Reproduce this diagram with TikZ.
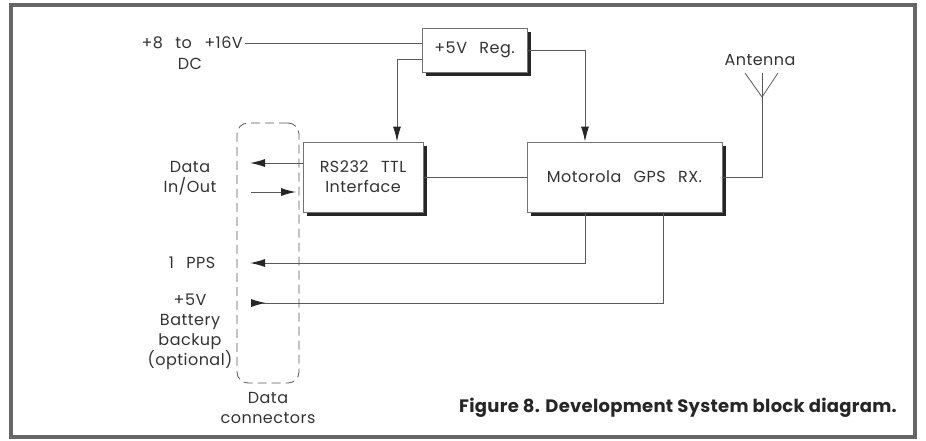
\documentclass[tikz,border=0pt]{standalone}
\usepackage{fontspec}
\setmainfont{Poppins}[WordSpace=2.6, LetterSpace=3]
\newfontfamily\capfont{Poppins}[LetterSpace=1.5]
\usetikzlibrary{arrows.meta,shadows}
\begin{document}
\begin{tikzpicture}[x=1pt,y=-1pt,
  lbl/.style={font=\fontsize{16}{20}\selectfont, text=black!80, inner sep=0pt, align=center},
  blk/.style={draw=black!55, line width=0.8pt, fill=white, minimum width=#1, font=\fontsize{16}{20}\selectfont, text=black!80, align=center, inner sep=0pt,
     drop shadow={shadow xshift=4pt, shadow yshift=-4pt, fill=black!85, opacity=1}},
  wire/.style={draw=black!65, line width=0.8pt},
  arr/.style={wire, -{Latex[length=15pt,width=8pt,line width=1pt,color=black!85,fill=black!85]}},
  rarr/.style={wire, {Latex[length=15pt,width=8pt,line width=1pt,reversed,color=black!85,fill=black!85]}-}
]
\useasboundingbox (0,0) rectangle (926,440);
% frame
\draw[draw=black!60, line width=3.5pt] (11,5) rectangle (915,437);

% blocks
\node[blk=105pt, minimum height=44pt] (reg) at (474.5,50) {+5V Reg.};
\node[blk=120pt, minimum height=70pt] (rs) at (363,177) {RS232 TTL\\Interface};
\node[blk=195pt, minimum height=70pt] (gps) at (624.5,177) {Motorola GPS RX.};
\node[draw=black!65, dashed, dash pattern=on 9pt off 5pt, line width=0.8pt, rounded corners=11pt, minimum width=62pt, minimum height=260pt, inner sep=0pt] (conn) at (268,253) {};

% labels
\node[lbl, anchor=east] (src) at (243,43) {+8 to +16V};
\node[lbl] (dc) at (190,64) {DC};
\node[lbl] (dio) at (190,178) {Data\\In/Out};
\node[lbl] (pps) at (192,263) {1 PPS};
\node[lbl] (bat) at (190,332) {+5V\\Battery\\backup\\(optional)};
\node[lbl] (dcn) at (268,408) {Data\\connectors};
\node[lbl] (antl) at (760,60) {Antenna};
\node[font=\fontsize{18}{20}\capfont\bfseries, text=black!85, anchor=east, inner sep=0pt] (cap) at (897,408) {Figure 8. Development System block diagram.};

% coordinates
\coordinate (d1) at (250,163);
\coordinate (d2a) at (251,192);
\coordinate (d2b) at (296,192);
\coordinate (p1) at (250,263);
\coordinate (b1) at (251,303);
\coordinate (ant) at (762,97);
\coordinate (antL) at (745,73);
\coordinate (antR) at (778,73);
\coordinate (antT) at (762,73);

% connectors
\draw[wire] ([xshift=2pt]src.east) -- (src.east -| reg.west);
\draw[arr] ([yshift=-9pt]reg.west) -| ([xshift=34pt]rs.north);
\draw[arr] (reg.east) -| ([xshift=-39.5pt]gps.north);
\draw[wire] (rs.east) -- (gps.west);
\draw[wire] (gps.east) -| (ant);
\draw[wire] (antL) -- (ant) -- (antR);
\draw[wire] (ant) -- (antT);
\draw[arr] ([yshift=14pt]rs.west) -- (d1);
\draw[arr] (d2a) -- (d2b);
\draw[arr] ([xshift=-39.5pt]gps.south) |- (p1);
\draw[rarr] (b1) -| ([xshift=38.5pt]gps.south);
\end{tikzpicture}
\end{document}
